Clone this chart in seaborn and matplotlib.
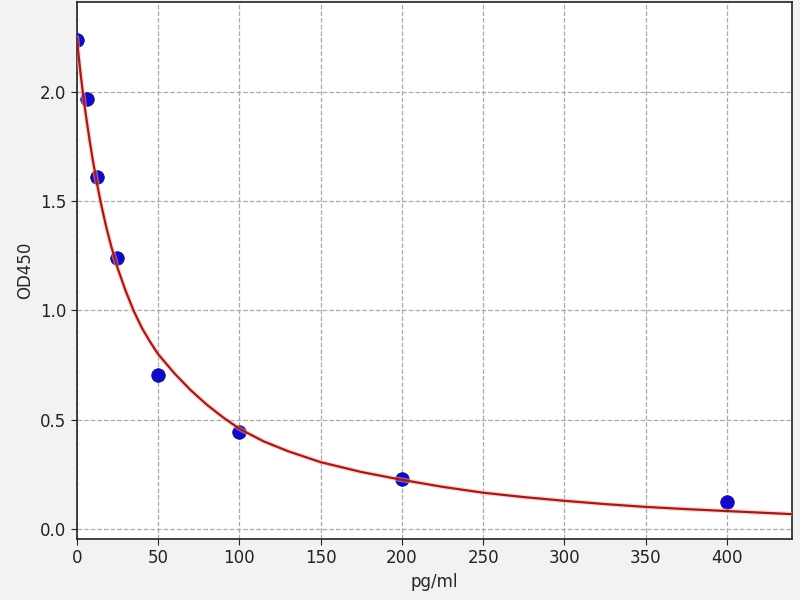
import matplotlib
matplotlib.use("Agg")
import matplotlib.pyplot as plt
import seaborn as sns
import pandas as pd

# standard points
conc = [0, 6.25, 12.5, 25, 50, 100, 200, 400]
od450 = [2.238, 1.969, 1.612, 1.242, 0.702, 0.445, 0.229, 0.122]

# fitted curve
curve_x = [0, 1, 2, 3.5, 5, 6.25, 8, 10, 12.5, 15, 18, 21, 25, 30, 35, 40,
           45, 50, 60, 70, 80, 90, 100, 115, 130, 150, 175, 200, 225, 250,
           275, 300, 325, 350, 375, 400, 420, 440]
curve_y = [2.25, 2.175, 2.105, 2.01, 1.925, 1.86, 1.773, 1.682, 1.578, 1.485,
           1.385, 1.298, 1.196, 1.09, 0.998, 0.92, 0.857, 0.80, 0.712, 0.635,
           0.568, 0.51, 0.458, 0.40, 0.355, 0.305, 0.26, 0.224, 0.192, 0.165,
           0.145, 0.128, 0.113, 0.100, 0.090, 0.081, 0.074, 0.067]

df_pts = pd.DataFrame({"pg/ml": conc, "OD450": od450})
df_fit = pd.DataFrame({"pg/ml": curve_x, "OD450": curve_y})

sns.set_style("ticks")
plt.rcParams["font.family"] = ["DejaVu Sans"]

fig, ax = plt.subplots(figsize=(8, 6), dpi=100)
fig.patch.set_facecolor("#f2f2f2")
ax.set_facecolor("white")

sns.scatterplot(data=df_pts, x="pg/ml", y="OD450", ax=ax, s=95,
                color="#1208cc", edgecolor="#10106a", linewidth=0.6, zorder=3)
sns.lineplot(data=df_fit, x="pg/ml", y="OD450", ax=ax, color="#ffb0b0",
             linewidth=3.5, alpha=0.5, zorder=4)
sns.lineplot(data=df_fit, x="pg/ml", y="OD450", ax=ax, color="#a01c18",
             linewidth=1.6, zorder=5)

ax.set_xlim(0, 440)
ax.set_ylim(-0.046, 2.413)
ax.set_xticks([0, 50, 100, 150, 200, 250, 300, 350, 400])
ax.set_yticks([0.0, 0.5, 1.0, 1.5, 2.0])
ax.grid(True, linestyle="--", color="#aaaaaa", linewidth=0.9)
ax.set_axisbelow(True)
ax.tick_params(labelsize=12, direction="out", length=4, colors="#222222")
ax.set_xlabel("pg/ml", fontsize=12, labelpad=4)
ax.set_ylabel("OD450", fontsize=12)
for sp in ax.spines.values():
    sp.set_visible(True)
    sp.set_color("#222222")
    sp.set_linewidth(1.2)

plt.subplots_adjust(left=0.096, right=0.99, top=0.997, bottom=0.102)
plt.savefig("out.png", dpi=100, facecolor=fig.get_facecolor())
